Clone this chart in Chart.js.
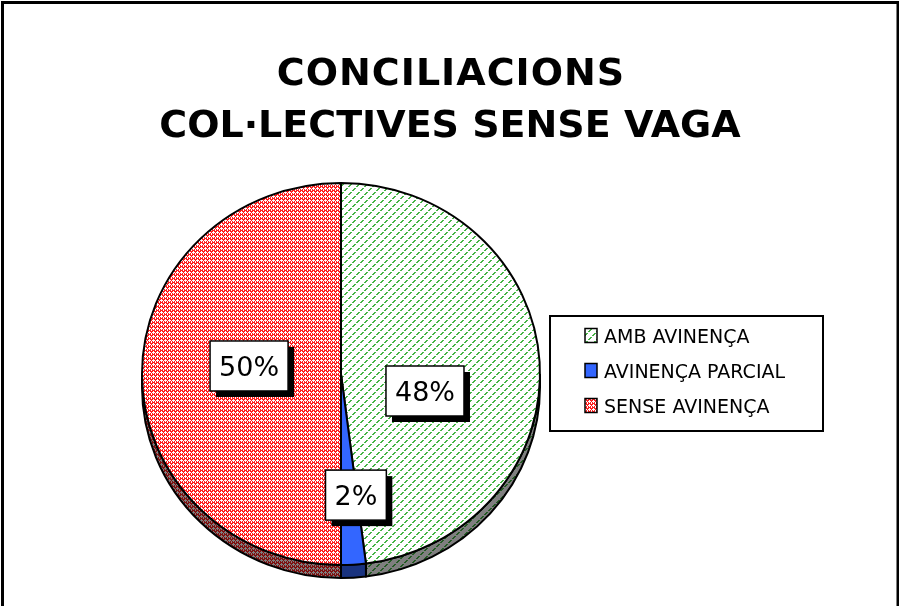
<!DOCTYPE html>
<html>

<head>
    <meta charset="UTF-8">
    <title>Conciliacions col·lectives sense vaga</title>
    <style>
        body { margin: 0; background: #fff; }
        canvas { display: block; }
    </style>
</head>

<body>
    <canvas id="chart" width="899" height="606"></canvas>
    <script src="https://cdn.jsdelivr.net/npm/chart.js"></script>
    <script>
        const titleLines = ['CONCILIACIONS', 'COL·LECTIVES SENSE VAGA'];
        const categories = ['AMB AVINENÇA', 'AVINENÇA PARCIAL', 'SENSE AVINENÇA'];
        const percents = [48, 2, 50];
        const percentLabels = ['48%', '2%', '50%'];

        const SQUASH = 0.96; // pie is a bit flatter than a circle
        const DEPTH = 13.5;  // height of the 3D side

        // fills: hatched green, solid blue, red confetti
        function makeFill(kind, squash) {
            if (kind === 'blue') return 'rgb(51,102,255)';
            const c = document.createElement('canvas');
            const g = c.getContext('2d');
            if (kind === 'green') {
                c.width = 8; c.height = 8;
                g.fillStyle = '#fff';
                g.fillRect(0, 0, 8, 8);
                g.fillStyle = 'rgb(70,180,70)';
                for (let i = 0; i < 8; i++) {
                    if (i === 3 || i === 7) continue; // gaps -> dashed look
                    g.fillRect(i, 7 - i, 1, 1);
                    g.fillRect((i + 1) % 8, 7 - i, 1, 1);
                }
            } else {
                c.width = 4; c.height = 4;
                g.fillStyle = 'rgb(255,30,30)';
                g.fillRect(0, 0, 4, 4);
                g.fillStyle = '#fff';
                [[1, 0], [0, 1], [1, 1], [2, 1], [1, 2], [3, 3], [3, 2]].forEach(p => g.fillRect(p[0], p[1], 1, 1));
            }
            const pat = g.createPattern(c, 'repeat');
            if (squash) pat.setTransform(new DOMMatrix().scale(1, 1 / squash));
            return pat;
        }

        const kinds = ['green', 'blue', 'red'];
        const pieFills = kinds.map(k => makeFill(k, SQUASH));
        const legendFills = kinds.map(k => makeFill(k));

        // white page with the chart frame (no bottom edge in view)
        const framePlugin = {
            id: 'frame',
            beforeDraw(chart) {
                const ctx = chart.ctx;
                ctx.save();
                ctx.fillStyle = '#fff';
                ctx.fillRect(0, 0, chart.width, chart.height);
                ctx.strokeStyle = '#000';
                ctx.lineWidth = 3;
                ctx.beginPath();
                ctx.moveTo(2.5, chart.height + 5);
                ctx.lineTo(2.5, 2.5);
                ctx.lineTo(898, 2.5);
                ctx.lineTo(898, chart.height + 5);
                ctx.stroke();
                ctx.restore();
            }
        };

        // flatten the pie and draw its side under the top face
        const pie3dPlugin = {
            id: 'pie3d',
            beforeDatasetsDraw(chart) {
                const ctx = chart.ctx;
                const arcs = chart.getDatasetMeta(0).data;
                const cx = arcs[0].x, cy = arcs[0].y;
                ctx.save();
                ctx.translate(cx, cy);
                ctx.scale(1, SQUASH);
                ctx.translate(-cx, -cy);
                arcs.forEach((el, i) => {
                    const a0 = Math.max(el.startAngle, 0);
                    const a1 = Math.min(el.endAngle, Math.PI);
                    if (a1 <= a0) return;
                    const r = el.outerRadius;
                    ctx.beginPath();
                    ctx.arc(el.x, el.y, r, a0, a1);
                    ctx.arc(el.x, el.y + DEPTH, r, a1, a0, true);
                    ctx.closePath();
                    ctx.fillStyle = pieFills[i];
                    ctx.fill();
                    ctx.fillStyle = 'rgba(0,0,0,0.5)';
                    ctx.fill();
                    ctx.strokeStyle = '#000';
                    ctx.lineWidth = 2;
                    ctx.stroke();
                });
            },
            afterDatasetsDraw(chart) {
                chart.ctx.restore();
            }
        };

        // where the percentage boxes sit, as fractions of the radius from the centre
        const labelAnchors = [[0.422, 0.089], [0.075, 0.634], [-0.462, -0.042]];

        const annotatePlugin = {
            id: 'annotate',
            afterDraw(chart) {
                const ctx = chart.ctx;
                const arcs = chart.getDatasetMeta(0).data;
                const cx = arcs[0].x, cy = arcs[0].y, r = arcs[0].outerRadius;
                ctx.save();

                // title
                ctx.fillStyle = '#000';
                ctx.textAlign = 'center';
                ctx.textBaseline = 'alphabetic';
                ctx.font = 'bold 38px "DejaVu Sans", Verdana, sans-serif';
                ctx.letterSpacing = '1px';
                ctx.fillText(titleLines[0], 451, 85);
                ctx.letterSpacing = '0px';
                ctx.fillText(titleLines[1], 450, 137, 582);

                // percentage boxes
                ctx.font = '27px "DejaVu Sans", Verdana, sans-serif';
                percentLabels.forEach((txt, i) => {
                    const x = cx + labelAnchors[i][0] * r;
                    const y = cy + labelAnchors[i][1] * r * SQUASH;
                    const w = ctx.measureText(txt).width + 18;
                    const h = 50;
                    ctx.fillStyle = '#000';
                    ctx.fillRect(x - w / 2 + 6, y - h / 2 + 6, w, h);
                    ctx.fillStyle = '#fff';
                    ctx.fillRect(x - w / 2, y - h / 2, w, h);
                    ctx.strokeStyle = '#000';
                    ctx.lineWidth = 1.5;
                    ctx.strokeRect(x - w / 2, y - h / 2, w, h);
                    ctx.fillStyle = '#000';
                    ctx.fillText(txt, x, y + 10);
                });

                // legend
                ctx.lineWidth = 2;
                ctx.strokeRect(550, 316, 273, 115);
                ctx.textAlign = 'left';
                ctx.font = '19px "DejaVu Sans", Verdana, sans-serif';
                chart.data.labels.forEach((lab, i) => {
                    const rowMid = 335.5 + i * 35;
                    ctx.fillStyle = legendFills[i];
                    ctx.fillRect(585, rowMid - 7, 12, 14);
                    ctx.lineWidth = 1.5;
                    ctx.strokeRect(585, rowMid - 7, 12, 14);
                    ctx.fillStyle = '#000';
                    ctx.fillText(lab, 604, rowMid + 7);
                });
                ctx.restore();
            }
        };

        const ctx = document.getElementById('chart').getContext('2d');
        new Chart(ctx, {
            type: 'pie',
            data: {
                labels: categories,
                datasets: [{
                    data: percents,
                    backgroundColor: pieFills,
                    borderColor: '#000',
                    borderWidth: 2,
                    radius: 199,
                    clip: false,
                }],
            },
            options: {
                responsive: false,
                animation: false,
                events: [],
                layout: {
                    padding: { left: 142, right: 359, top: 175, bottom: 33 },
                },
                plugins: {
                    legend: { display: false },
                    tooltip: { enabled: false },
                    title: { display: false },
                },
            },
            plugins: [framePlugin, pie3dPlugin, annotatePlugin],
        });
    </script>
</body>

</html>
